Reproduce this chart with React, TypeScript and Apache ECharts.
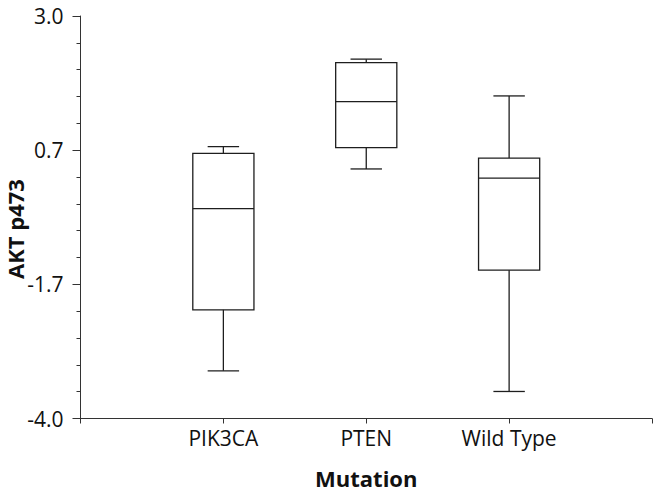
import React, { useEffect, useRef } from "react";
import * as echarts from "echarts";

const categories = ["PIK3CA", "PTEN", "Wild Type"];
const lowWhisker = [-3.17, 0.34, -3.53];
const q1 = [-2.11, 0.71, -1.42];
const median = [-0.35, 1.51, 0.18];
const q3 = [0.61, 2.19, 0.53];
const highWhisker = [0.73, 2.25, 1.61];

const yMajorTicks = [3.0, 0.6667, -1.6667, -4.0];
const yMinorTicks = [3.0, 2.5333, 2.0667, 1.6, 1.1333, 0.6667, 0.2, -0.2667, -0.7333, -1.2, -1.6667, -2.1333, -2.6, -3.0667, -3.5333, -4.0];

const yTitle = "AKT p473";
const xTitle = "Mutation";

const FONT = "Open Sans";
const INK = "#1e1e1e";

export default function App() {
  const ref = useRef<HTMLDivElement>(null);
  useEffect(() => {
    if (!ref.current) return;
    const chart = echarts.init(ref.current, null, { renderer: "svg" });
    const data = categories.map((c, i) => [i + 1, lowWhisker[i], q1[i], median[i], q3[i], highWhisker[i]]);
    chart.setOption({
      animation: false,
      backgroundColor: "#ffffff",
      grid: { left: 80.5, right: 2, top: 16, bottom: 73.5, containLabel: false, outerBoundsMode: "none" },
      graphic: [
        {
          type: "text",
          x: 15,
          y: 229,
          rotation: Math.PI / 2,
          style: {
            text: yTitle,
            fontFamily: FONT,
            fontSize: 22,
            fontWeight: "bold",
            fill: "#111",
            align: "center",
            verticalAlign: "middle",
          },
        },
      ],
      xAxis: {
        type: "value",
        min: 0,
        max: 4,
        interval: 1,
        name: xTitle,
        nameLocation: "middle",
        nameGap: 48,
        nameTextStyle: { fontFamily: FONT, fontSize: 22, fontWeight: "bold", color: "#111" },
        axisLine: { show: true, onZero: false, lineStyle: { color: "#333", width: 1 } },
        axisTick: { show: true, length: 5, lineStyle: { color: "#333" } },
        splitLine: { show: false },
        axisLabel: {
          customValues: [1, 2, 3],
          margin: 9,
          fontFamily: FONT,
          fontSize: 21,
          color: "#111",
          formatter: (v: number) => categories[Math.round(v) - 1] ?? "",
        },
      },
      yAxis: [
        {
          type: "value",
          min: -4,
          max: 3,
          position: "left",
          axisLine: { show: true, onZero: false, lineStyle: { color: "#333", width: 1 } },
          axisTick: { show: true, length: 8, customValues: yMajorTicks, lineStyle: { color: "#333" } },
          axisLabel: {
            customValues: yMajorTicks,
            margin: 17,
            fontFamily: FONT,
            fontSize: 21,
            color: "#111",
            formatter: (v: number) => v.toFixed(1),
          },
          splitLine: { show: false },
        },
        {
          type: "value",
          min: -4,
          max: 3,
          position: "left",
          axisLine: { show: false, onZero: false },
          axisTick: { show: true, length: 4, customValues: yMinorTicks, lineStyle: { color: "#333" } },
          axisLabel: { show: false },
          splitLine: { show: false },
        },
      ],
      series: [
        {
          type: "custom",
          xAxisIndex: 0,
          yAxisIndex: 0,
          data,
          encode: { x: 0, y: [1, 2, 3, 4, 5] },
          renderItem: (params: any, api: any) => {
            const x = api.value(0);
            const unit = api.size([1, 0])[0];
            const bw = unit * 0.214;
            const cw = unit * 0.11;
            const pLow = api.coord([x, api.value(1)]);
            const pQ1 = api.coord([x, api.value(2)]);
            const pMed = api.coord([x, api.value(3)]);
            const pQ3 = api.coord([x, api.value(4)]);
            const pHigh = api.coord([x, api.value(5)]);
            const cx = pMed[0];
            const ls = { stroke: INK, lineWidth: 1.3, fill: null };
            return {
              type: "group",
              children: [
                { type: "rect", shape: { x: cx - bw, y: pQ3[1], width: 2 * bw, height: pQ1[1] - pQ3[1] }, style: { stroke: INK, lineWidth: 1.3, fill: "#fff" } },
                { type: "line", shape: { x1: cx - bw, y1: pMed[1], x2: cx + bw, y2: pMed[1] }, style: ls },
                { type: "line", shape: { x1: cx, y1: pQ3[1], x2: cx, y2: pHigh[1] }, style: ls },
                { type: "line", shape: { x1: cx, y1: pQ1[1], x2: cx, y2: pLow[1] }, style: ls },
                { type: "line", shape: { x1: cx - cw, y1: pHigh[1], x2: cx + cw, y2: pHigh[1] }, style: ls },
                { type: "line", shape: { x1: cx - cw, y1: pLow[1], x2: cx + cw, y2: pLow[1] }, style: ls },
              ],
            };
          },
        },
      ],
    });
    return () => chart.dispose();
  }, []);
  return <div ref={ref} style={{ width: 654, height: 492, position: "absolute", left: 0, top: 0 }} />;
}
